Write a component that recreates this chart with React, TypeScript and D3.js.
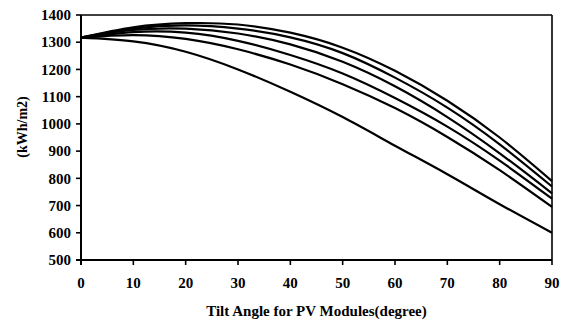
import React from "react";
import * as d3 from "d3";

const angles = [0, 10, 20, 30, 40, 50, 60, 70, 80, 90];
const series1 = [1317, 1355, 1370, 1365, 1335, 1280, 1195, 1085, 950, 790];
const series2 = [1317, 1350, 1362, 1350, 1318, 1260, 1170, 1060, 925, 770];
const series3 = [1317, 1345, 1350, 1332, 1292, 1228, 1138, 1025, 892, 745];
const series4 = [1317, 1337, 1335, 1305, 1253, 1185, 1095, 990, 865, 725];
const series5 = [1317, 1326, 1312, 1274, 1218, 1146, 1058, 952, 830, 695];
const series6 = [1317, 1303, 1265, 1200, 1118, 1025, 920, 815, 705, 600];
const allSeries = [series1, series2, series3, series4, series5, series6];
const xTicks = [0, 10, 20, 30, 40, 50, 60, 70, 80, 90];
const yTicks = [500, 600, 700, 800, 900, 1000, 1100, 1200, 1300, 1400];
const xTitle = "Tilt Angle for PV Modules(degree)";
const yTitle = "(kWh/m2)";

export default function App() {
  const W = 564, H = 322;
  const left = 81, right = 552, top = 15, bottom = 260;
  const x = d3.scaleLinear().domain([0, 90]).range([left, right]);
  const y = d3.scaleLinear().domain([500, 1400]).range([bottom, top]);
  const line = d3
    .line<number>()
    .x((_, i) => x(angles[i]))
    .y((d) => y(d))
    .curve(d3.curveNatural);
  const font = "'Liberation Serif', 'DejaVu Serif', serif";
  return (
    <svg
      width={W}
      height={H}
      style={{ position: "absolute", left: 0, top: 0, background: "#fff" }}
    >
      <rect x={0} y={0} width={W} height={H} fill="#fff" />
      {allSeries.map((s, k) => (
        <path key={k} d={line(s) || ""} fill="none" stroke="#000" strokeWidth={2.2} />
      ))}
      {/* frame */}
      <line x1={left} x2={right} y1={top} y2={top} stroke="#000" strokeWidth={1.6} />
      <line x1={right} x2={right} y1={top} y2={bottom} stroke="#000" strokeWidth={1.6} />
      <line x1={left} x2={left} y1={top} y2={bottom + 5} stroke="#000" strokeWidth={2} />
      <line x1={left - 5} x2={right} y1={bottom} y2={bottom} stroke="#000" strokeWidth={2} />
      {yTicks.map((t) => (
        <g key={t}>
          <line x1={left - 5} x2={left} y1={y(t)} y2={y(t)} stroke="#000" strokeWidth={1.6} />
          <text
            x={left - 10}
            y={y(t)}
            dy="0.35em"
            textAnchor="end"
            fontFamily={font}
            fontWeight="bold"
            fontSize={15}
            fill="#000"
          >
            {t}
          </text>
        </g>
      ))}
      {xTicks.map((t) => (
        <g key={t}>
          <line x1={x(t)} x2={x(t)} y1={bottom} y2={bottom + 5} stroke="#000" strokeWidth={1.6} />
          <text
            x={x(t)}
            y={bottom + 28}
            textAnchor="middle"
            fontFamily={font}
            fontWeight="bold"
            fontSize={15}
            fill="#000"
          >
            {t}
          </text>
        </g>
      ))}
      <text
        x={(left + right) / 2}
        y={316}
        textAnchor="middle"
        fontFamily={font}
        fontWeight="bold"
        fontSize={15}
        fill="#000"
      >
        {xTitle}
      </text>
      <text
        transform={`translate(27,127) rotate(-90)`}
        textAnchor="middle"
        fontFamily={font}
        fontWeight="bold"
        fontSize={14}
        fill="#000"
      >
        {yTitle}
      </text>
    </svg>
  );
}
